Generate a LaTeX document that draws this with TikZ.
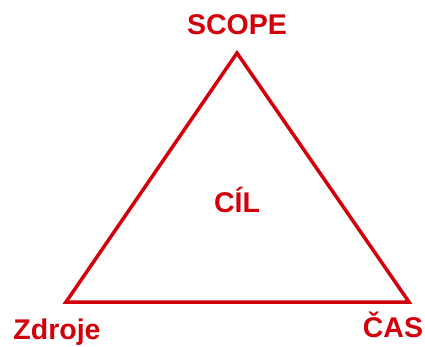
\documentclass[tikz,border=0pt]{standalone}
\usepackage{fontspec}
\setmainfont{Liberation Sans}
\definecolor{cilred}{RGB}{210,0,10}
\begin{document}
\begin{tikzpicture}[x=1pt, y=-1pt, line width=3.5pt,
  label/.style={text=cilred, font=\fontsize{28.5}{32}\selectfont\bfseries, inner sep=0pt, anchor=base}]

  % Bounding box of the picture
  \useasboundingbox (0,0) rectangle (425,347);

  % Corners of the triangle
  \coordinate (top) at (237,53);
  \coordinate (left) at (66,302);
  \coordinate (right) at (409,302);

  % The triangle
  \draw[cilred, line join=miter] (top) -- (left) -- (right) -- cycle;

  % Labels
  \node[label] (scope) at (237,35) {SCOPE};
  \node[label] (cil) at (237,213) {CÍL};
  \node[label] (zdroje) at (57,339) {Zdroje};
  \node[label] (cas) at (393,337) {ČAS};

\end{tikzpicture}
\end{document}
